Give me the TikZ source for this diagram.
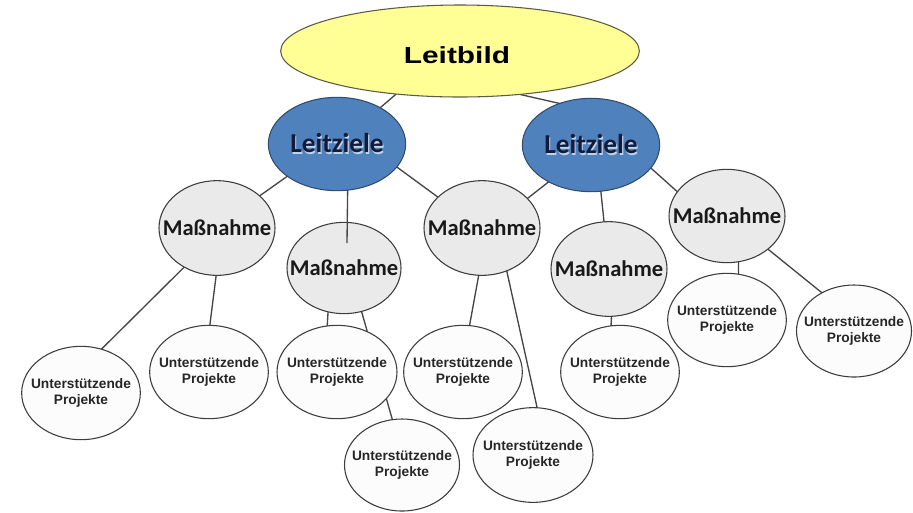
\documentclass[tikz,border=0pt]{standalone}
\usepackage{fontspec}
\setmainfont{Liberation Sans}
\newfontfamily\carl{Carlito}
\newfontfamily\wide[FakeStretch=1.28]{Liberation Sans}
\usetikzlibrary{shapes.geometric,backgrounds,calc}
\definecolor{lbfill}{RGB}{255,255,150}
\definecolor{lbdraw}{RGB}{90,90,70}
\definecolor{lzfill}{RGB}{79,129,189}
\definecolor{lzdraw}{RGB}{50,75,110}
\definecolor{lztext}{RGB}{18,28,58}
\definecolor{msfill}{RGB}{234,234,234}
\definecolor{ufill}{RGB}{252,252,252}
\definecolor{ndraw}{RGB}{60,60,60}
\definecolor{linecol}{RGB}{70,70,70}
\newcommand\lzshadow[1]{\makebox[0pt][l]{\kern0.8pt\raisebox{-0.8pt}{\color{white!65!lzfill}#1}}#1}
\begin{document}
\begin{tikzpicture}[x=0.75pt,y=-0.75pt,
  base/.style={ellipse, inner sep=0pt, outer sep=0pt, line width=0.8pt},
  lbnode/.style={base, draw=lbdraw, fill=lbfill, minimum width=269pt, minimum height=69pt},
  lznode/.style={base, draw=lzdraw, fill=lzfill, minimum width=103pt, minimum height=70pt},
  msnode/.style={base, draw=ndraw, fill=msfill, minimum width=87pt, minimum height=71pt},
  unode/.style={base, draw=ndraw, fill=ufill, minimum width=89pt, minimum height=70pt},
  lbtext/.style={font=\wide\bfseries\fontsize{17.5}{20}\selectfont, text=black, inner sep=0pt},
  lztext/.style={font=\carl\bfseries\fontsize{20.5}{24}\selectfont, text=lztext, inner sep=0pt},
  mstext/.style={font=\carl\bfseries\fontsize{16.9}{20}\selectfont, text=black!90, inner sep=0pt},
  utext/.style={font=\bfseries\fontsize{10.3}{12}\selectfont, text=black!85, align=center, inner sep=0pt},
  conn/.style={draw=linecol, line width=1pt}
]
\useasboundingbox (0,0) rectangle (913,512);

\node[lbnode, label={[lbtext,xshift=-2.3pt,yshift=-3pt]center:Leitbild}] (LB) at (460,51) {};
\node[lznode, label={[lztext]center:\lzshadow{Leitziele}}] (LZ1) at (337,144) {};
\node[lznode, label={[lztext]center:\lzshadow{Leitziele}}] (LZ2) at (591,145) {};

\node[msnode, label={[mstext]center:Maßnahme}] (M1) at (217,228) {};
\node[msnode, minimum width=85.5pt, minimum height=68.5pt, label={[mstext]center:Maßnahme}] (M2) at (344,268) {};
\node[msnode, label={[mstext]center:Maßnahme}] (M3) at (482,228) {};
\node[msnode, label={[mstext]center:Maßnahme}] (M4) at (609,269) {};
\node[msnode, minimum height=70pt, label={[mstext]center:Maßnahme}] (M5) at (727,216) {};

\node[unode, label={[utext]center:{Unterstützende\\Projekte}}] (U1a) at (81,393) {};
\node[unode, label={[utext]center:{Unterstützende\\Projekte}}] (U1b) at (209,372) {};
\node[unode, minimum width=90pt, label={[utext]center:{Unterstützende\\Projekte}}] (U2a) at (337,372) {};
\node[unode, minimum width=86.25pt, minimum height=69pt, label={[utext]center:{Unterstützende\\Projekte}}] (U2b) at (402,465) {};
\node[unode, label={[utext]center:{Unterstützende\\Projekte}}] (U3a) at (463,372) {};
\node[unode, minimum width=90pt, minimum height=71pt, label={[utext]center:{Unterstützende\\Projekte}}] (U3b) at (533,455) {};
\node[unode, label={[utext]center:{Unterstützende\\Projekte}}] (U4a) at (620,372) {};
\node[unode, label={[utext]center:{Unterstützende\\Projekte}}] (U5a) at (727,320) {};
\node[unode, minimum width=86.25pt, minimum height=69pt, label={[utext]center:{Unterstützende\\Projekte}}] (U5b) at (854,331) {};

\begin{scope}[on background layer]
\fill[white] (0,0) rectangle (913,512);
\draw[conn] (LB.-146.7) -- (LZ1.40.7);
\draw[conn] (LB.-36.1) -- (LZ2.127.6);
\draw[conn] (LZ1.-147.6) -- (M1.37.5);
\draw[conn] (LZ1.-21.8) -- (M3.145.4);
\draw[conn] (LZ2.-139.2) -- (M3.33.1);
\draw[conn] (LZ2.-78) -- (M4.96.2);
\draw[conn] (LZ2.-21.3) -- (M5.154.4);
\draw[conn] (M1.-130.4) -- (U1a.65);
\draw[conn] (M1.-91) -- (U1b.89);
\draw[conn] (M2.-110.7) -- (U2a.102.3);
\draw[conn] (M2.-68.2) -- (U2b.102.5);
\draw[conn] (M3.-94.9) -- (U3a.82.6);
\draw[conn] (M3.-60) -- (U3b.85.1);
\draw[conn] (M4.-87.5) -- (U4a.101);
\draw[conn] (M5.-76.6) -- (U5a.76.8);
\draw[conn] (M5.-39.7) -- (U5b.130);
\end{scope}
\coordinate (M2in) at ($(M2.center)+(3,-25)$);
\draw[conn] (LZ1.-77.7) -- (M2in);
\end{tikzpicture}
\end{document}
